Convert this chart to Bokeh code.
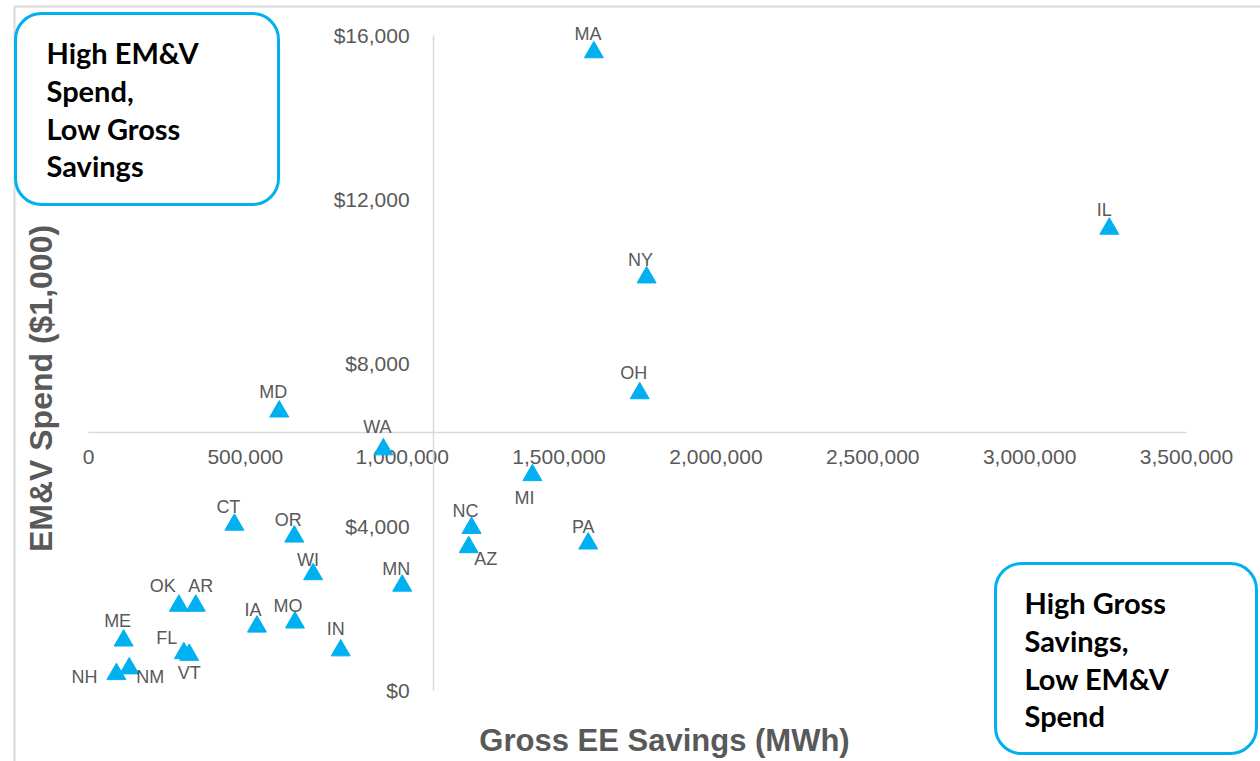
from math import pi
from bokeh.plotting import figure
from bokeh.models import (FixedTicker, BoxAnnotation, Label, LabelSet,
                          ColumnDataSource, Range1d)
from bokeh.core.properties import value
from bokeh.embed import file_html
from bokeh.resources import INLINE

# ---------------- data ----------------
states = ["MA", "IL", "NY", "OH", "MD", "WA", "MI", "CT", "OR", "WI", "MN", "OK",
          "AR", "IA", "MO", "IN", "ME", "FL", "VT", "NH", "NM", "NC", "AZ", "PA"]
gross_savings_mwh = [1611000, 3254000, 1779000, 1757000, 608000, 940000, 1415000,
                     465000, 656000, 716000, 1000000, 288000, 342000, 537000,
                     658000, 804000, 112000, 304000, 321000, 89000, 130000,
                     1221000, 1212000, 1593000]
emv_spend_k = [15590, 11280, 10090, 7260, 6815, 5890, 5260, 4050, 3760, 2840,
               2560, 2070, 2070, 1560, 1660, 980, 1220, 910, 870, 400, 540,
               3970, 3500, 3590]

x_ticks = [0, 500000, 1000000, 1500000, 2000000, 2500000, 3000000, 3500000]
x_tick_labels = ["0", "500,000", "1,000,000", "1,500,000", "2,000,000",
                 "2,500,000", "3,000,000", "3,500,000"]
y_ticks = [0, 4000, 8000, 12000, 16000]
y_tick_labels = ["$0", "$4,000", "$8,000", "$12,000", "$16,000"]

x_cross = 1100000   # where the vertical axis crosses
y_cross = 6300      # where the horizontal axis crosses

x_title = "Gross EE Savings (MWh)"
y_title = "EM&V Spend ($1,000)"
box1_lines = ["High EM&V", "Spend,", "Low Gross", "Savings"]
box2_lines = ["High Gross", "Savings,", "Low EM&V", "Spend"]

# label placement offsets (screen px, +down) -- styling only
label_dx = [-6, -5, -6, -6, -6, -6, -8, -6, -6, -5, -6, -16, 5, -4, -7, -5, -6,
            -17, 0, -32, 21, -6, 17, -5]
label_dy = [-18, -19, -17, -20, -20, -22, 23, -18, -17, -14, -17, -20, -20, -17,
            -17, -21, -20, -15, 18, 3, 9, -17, 12, -17]

BLUE = "#00B0F0"
GREY = "#595959"

# ---------------- layout geometry (pixels) ----------------
W, H = 1260, 761
PX_X0, PX_X1 = 88.0, 1186.0      # pixel of x=0 and x=3.5M
PX_Y0, PX_Y1 = 690.0, 35.0       # pixel of y=0 and y=16000
X_MAX, Y_MAX = x_ticks[-1], y_ticks[-1]
kx = X_MAX / (PX_X1 - PX_X0)
ky = Y_MAX / (PX_Y0 - PX_Y1)
x_range = Range1d(-PX_X0 * kx, (W - PX_X0) * kx)
y_range = Range1d(-(H - PX_Y0) * ky, PX_Y0 * ky)

src = ColumnDataSource(dict(x=gross_savings_mwh, y=emv_spend_k, state=states,
                            dx=label_dx, dy=[-d for d in label_dy]))

p = figure(width=W, height=H, output_backend="svg", toolbar_location=None,
           x_range=x_range, y_range=y_range,
           min_border=0, outline_line_color=None,
           background_fill_color="white", border_fill_color="white")
p.grid.visible = False

for ax in (p.xaxis[0], p.yaxis[0]):
    ax.major_tick_line_color = None
    ax.minor_tick_line_color = None
    ax.major_tick_out = 0
    ax.major_tick_in = 0
    ax.axis_line_color = "#D9D9D9"
    ax.axis_line_width = 1.5
    ax.major_label_text_font = "Liberation Sans"
    ax.major_label_text_font_size = "21px"
    ax.major_label_text_color = GREY
    ax.level = "underlay"

p.xaxis.fixed_location = y_cross
p.xaxis.bounds = (0, X_MAX)
p.xaxis.ticker = FixedTicker(ticks=x_ticks)
p.xaxis.major_label_overrides = dict(zip(x_ticks, x_tick_labels))
p.xaxis.major_label_standoff = 17

p.yaxis.fixed_location = x_cross
p.yaxis.bounds = (0, Y_MAX)
p.yaxis.ticker = FixedTicker(ticks=y_ticks)
p.yaxis.major_label_overrides = dict(zip(y_ticks, y_tick_labels))
p.yaxis.major_label_standoff = 24

p.scatter("x", "y", source=src, marker="triangle", size=19,
          fill_color=BLUE, line_color=BLUE, line_width=1)

p.add_layout(LabelSet(x="x", y="y", text="state", source=src,
                      x_offset="dx", y_offset="dy",
                      text_font=value("Liberation Sans"),
                      text_font_size=value("18px"),
                      text_color=GREY, text_align="center",
                      text_baseline="middle"))

# outer frame line
p.add_layout(BoxAnnotation(left=14, right=1400, top=6, bottom=900,
                           left_units="canvas", right_units="canvas",
                           top_units="canvas", bottom_units="canvas",
                           fill_color=None, line_color="#D9D9D9",
                           line_alpha=1.0, line_width=2))


def quad_box(l, t, r, b, lines, tx, ty0):
    p.add_layout(BoxAnnotation(left=l, right=r, top=t, bottom=b,
                               left_units="canvas", right_units="canvas",
                               top_units="canvas", bottom_units="canvas",
                               fill_color="white", fill_alpha=1.0,
                               line_color=BLUE, line_alpha=1.0, line_width=3,
                               border_radius=26))
    for i, line in enumerate(lines):
        p.add_layout(Label(x=tx, y=ty0 + i * 37.8, x_units="canvas",
                           y_units="canvas", text=line, text_font="Lato",
                           text_font_style="bold", text_font_size="29px",
                           text_color="black", text_align="left",
                           text_baseline="alphabetic"))


quad_box(15, 13, 278, 204, box1_lines, 46, 52)
quad_box(995, 563, 1256, 753, box2_lines, 1024, 602)

p.add_layout(Label(x=664, y=740, x_units="canvas", y_units="canvas",
                   text=x_title, text_font="Liberation Sans",
                   text_font_style="bold", text_font_size="31px",
                   text_color=GREY, text_align="center",
                   text_baseline="middle"))
p.add_layout(Label(x=40, y=388, x_units="canvas", y_units="canvas",
                   text=y_title, angle=pi / 2, text_font="Liberation Sans",
                   text_font_style="bold", text_font_size="32px",
                   text_color=GREY, text_align="center",
                   text_baseline="middle"))

open("out.html", "w").write(file_html(p, INLINE))
